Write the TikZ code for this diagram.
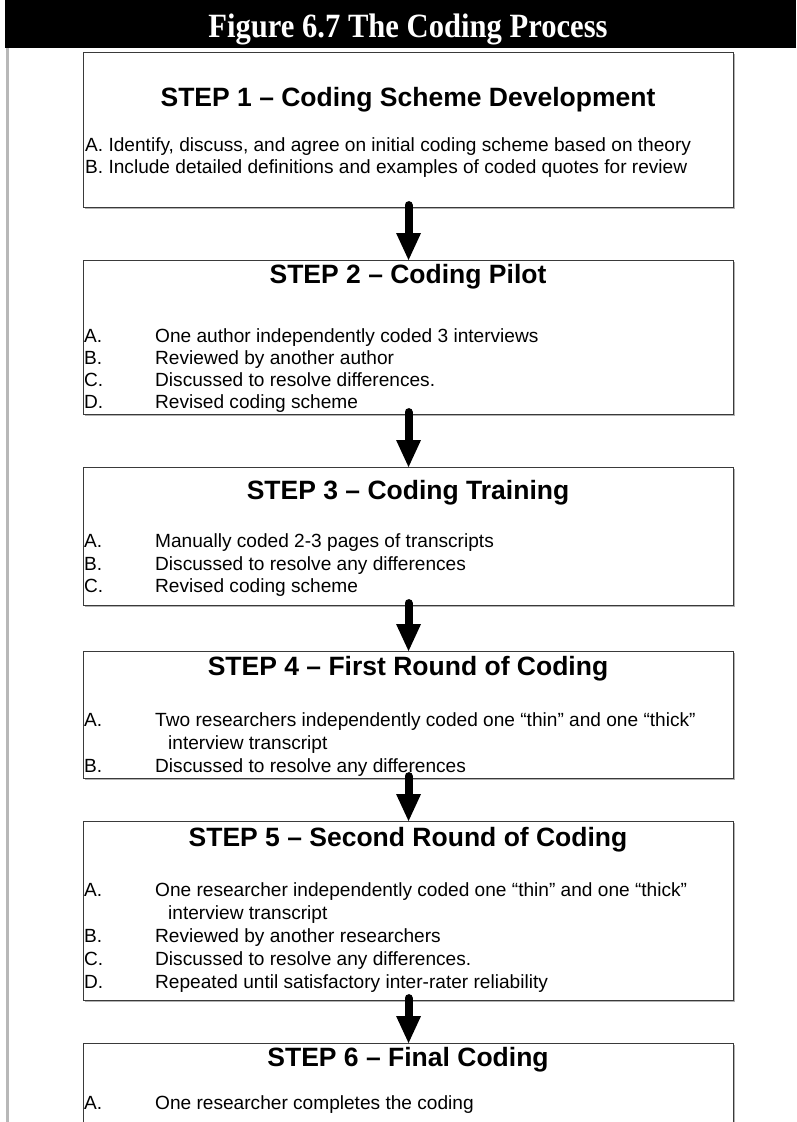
\documentclass[tikz,border=0pt]{standalone}
\usepackage{fontspec}
\setmainfont{Liberation Sans}
\newfontfamily\headfont[FakeStretch=0.9]{Liberation Serif}
\usetikzlibrary{shadows}
\definecolor{boxline}{HTML}{3A3A3A}
\definecolor{sidegray}{HTML}{B8B8B8}
\begin{document}
\begin{tikzpicture}[x=1pt,y=-1pt,
  stepbox/.style={draw=boxline, line width=1.1pt, fill=white, minimum width=650pt,
    inner sep=0pt, anchor=north west,
    drop shadow={shadow xshift=1.2pt, shadow yshift=-1.2pt, fill=gray!60, opacity=1}},
  steptitle/.style={anchor=base, inner sep=0pt, font=\bfseries\fontsize{26.5}{30}\selectfont},
  itemtxt/.style={anchor=base west, inner sep=0pt, font=\fontsize{19.1}{22}\selectfont},
  shaft/.style={line width=8pt, line cap=round},
  arrhead/.style={fill=black}
]
\useasboundingbox (0,0) rectangle (796,1122);
\fill[white] (0,0) rectangle (796,1122);
% header
\fill[black] (5,0) rectangle (796,48);
\node[anchor=base, inner sep=0pt, text=white, font=\headfont\bfseries\fontsize{34}{38}\selectfont] (hdr) at (408,37.5) {Figure 6.7 The Coding Process};
% side rule
\draw[line width=2.5pt, sidegray] (7.5,48) -- (7.5,1122);

% boxes
\node[stepbox, minimum height=155pt] (b1) at (83,52) {};
\node[stepbox, minimum height=154pt] (b2) at (83,260) {};
\node[stepbox, minimum height=138pt] (b3) at (83,467) {};
\node[stepbox, minimum height=127pt] (b4) at (83,651) {};
\node[stepbox, minimum height=179pt] (b5) at (83,821) {};
\node[stepbox, minimum height=130pt] (b6) at (83,1043) {};

% step 1
\node[steptitle] (t1) at (408,106.5) {STEP 1 – Coding Scheme Development};
\node[itemtxt] (s1a) at (85,151) {A. Identify, discuss, and agree on initial coding scheme based on theory};
\node[itemtxt] (s1b) at (85,173) {B. Include detailed definitions and examples of coded quotes for review};

% step 2
\node[steptitle] (t2) at (408,283.5) {STEP 2 – Coding Pilot};
\node[itemtxt] (l2a) at (84,342) {A.};
\node[itemtxt] (s2a) at (155,342) {One author independently coded 3 interviews};
\node[itemtxt] (l2b) at (84,364) {B.};
\node[itemtxt] (s2b) at (155,364) {Reviewed by another author};
\node[itemtxt] (l2c) at (84,386) {C.};
\node[itemtxt] (s2c) at (155,386) {Discussed to resolve differences.};
\node[itemtxt] (l2d) at (84,408) {D.};
\node[itemtxt] (s2d) at (155,408) {Revised coding scheme};

% step 3
\node[steptitle] (t3) at (408,499.5) {STEP 3 – Coding Training};
\node[itemtxt] (l3a) at (84,547) {A.};
\node[itemtxt] (s3a) at (155,547) {Manually coded 2-3 pages of transcripts};
\node[itemtxt] (l3b) at (84,570) {B.};
\node[itemtxt] (s3b) at (155,570) {Discussed to resolve any differences};
\node[itemtxt] (l3c) at (84,592) {C.};
\node[itemtxt] (s3c) at (155,592) {Revised coding scheme};

% step 4
\node[steptitle] (t4) at (408,675.5) {STEP 4 – First Round of Coding};
\node[itemtxt] (l4a) at (84,726) {A.};
\node[itemtxt] (s4a) at (155,726) {Two researchers independently coded one “thin” and one “thick”};
\node[itemtxt] (s4a2) at (168,749) {interview transcript};
\node[itemtxt] (l4b) at (84,772) {B.};
\node[itemtxt] (s4b) at (155,772) {Discussed to resolve any differences};

% step 5
\node[steptitle] (t5) at (408,846.5) {STEP 5 – Second Round of Coding};
\node[itemtxt] (l5a) at (84,896) {A.};
\node[itemtxt] (s5a) at (155,896) {One researcher independently coded one “thin” and one “thick”};
\node[itemtxt] (s5a2) at (168,919) {interview transcript};
\node[itemtxt] (l5b) at (84,942) {B.};
\node[itemtxt] (s5b) at (155,942) {Reviewed by another researchers};
\node[itemtxt] (l5c) at (84,965) {C.};
\node[itemtxt] (s5c) at (155,965) {Discussed to resolve any differences.};
\node[itemtxt] (l5d) at (84,988) {D.};
\node[itemtxt] (s5d) at (155,988) {Repeated until satisfactory inter-rater reliability};

% step 6
\node[steptitle] (t6) at (408,1066.5) {STEP 6 – Final Coding};
\node[itemtxt] (l6a) at (84,1109) {A.};
\node[itemtxt] (s6a) at (155,1109) {One researcher completes the coding};

% arrows
\foreach \a/\b in {b1/b2,b2/b3,b3/b4,b4/b5,b5/b6}{
  \draw[shaft] ([yshift=3pt]\a.south) -- ([yshift=26pt]\b.north);
  \fill[arrhead] (\b.north) -- ++(-12.5,-27) -- ++(25,0) -- cycle;
}
\end{tikzpicture}
\end{document}
